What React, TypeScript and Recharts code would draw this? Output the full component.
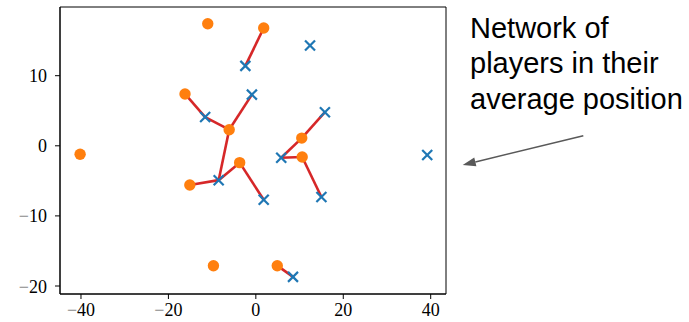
import React from "react";
import { ScatterChart, Scatter, XAxis, YAxis, ReferenceArea } from "recharts";

// average positions
const homeX = [-11.0, 1.8, -16.2, -6.1, -40.2, 10.5, 10.6, -3.7, -15.1, -9.7, 4.9];
const homeY = [17.4, 16.8, 7.4, 2.3, -1.2, 1.1, -1.6, -2.4, -5.6, -17.1, -17.1];
const awayX = [-2.4, 12.4, -0.9, -11.6, 15.8, 5.8, 39.2, -8.5, 1.8, 15.0, 8.5];
const awayY = [11.4, 14.3, 7.3, 4.1, 4.8, -1.7, -1.3, -4.9, -7.7, -7.3, -18.7];
// [home index, away index]
const links = [
  [1, 0], [2, 3], [3, 3], [3, 2], [3, 7], [8, 7], [7, 7], [7, 8],
  [5, 5], [5, 4], [6, 5], [6, 9], [10, 10],
];
const xTicks = [-40, -20, 0, 20, 40];
const yTicks = [-20, -10, 0, 10];
const xDomain = [-44.8, 43.5];
const yDomain = [-21.14, 19.8];
const noteLines = ["Network of", "players in their", "average position"];

const home = homeX.map((x, i) => ({ x, y: homeY[i] }));
const away = awayX.map((x, i) => ({ x, y: awayY[i] }));
const segments = links.map(([h, a]) => [home[h], away[a]]);

const tickFont = { fontFamily: "Liberation Serif", fontSize: 18 };

function label(v: number) {
  if (v < 0)
    return (
      <>
        <tspan fill="#8a8a8a">−</tspan>
        <tspan>{Math.abs(v)}</tspan>
      </>
    );
  return String(v);
}

const XTick = (p: any) => (
  <text x={p.x} y={p.y} dy={17} textAnchor="middle" fill="#000" style={tickFont}>
    {label(p.payload.value)}
  </text>
);

const YTick = (p: any) => (
  <text x={p.x} y={p.y} dy={6.5} textAnchor="end" fill="#000" style={tickFont}>
    {label(p.payload.value)}
  </text>
);

const Dot = (p: any) => <circle cx={p.cx} cy={p.cy} r={5.7} fill="#ff7f0e" />;

const Cross = (p: any) => {
  const s = 5;
  return (
    <g stroke="#1f77b4" strokeWidth={2.2}>
      <line x1={p.cx - s} y1={p.cy - s} x2={p.cx + s} y2={p.cy + s} />
      <line x1={p.cx - s} y1={p.cy + s} x2={p.cx + s} y2={p.cy - s} />
    </g>
  );
};

function Arrow({ x1, y1, x2, y2 }: { x1: number; y1: number; x2: number; y2: number }) {
  const len = Math.hypot(x2 - x1, y2 - y1);
  const ux = (x2 - x1) / len;
  const uy = (y2 - y1) / len;
  const bx = x2 - 13 * ux;
  const by = y2 - 13 * uy;
  const w = 4.5;
  return (
    <g>
      <line x1={x1} y1={y1} x2={bx} y2={by} stroke="#595959" strokeWidth={1.6} />
      <polygon
        points={`${x2},${y2} ${bx - w * uy},${by + w * ux} ${bx + w * uy},${by - w * ux}`}
        fill="#595959"
      />
    </g>
  );
}

export default function App() {
  return (
    <div style={{ position: "relative", width: 689, height: 322 }}>
      <style>{"body{margin:0}"}</style>
      <ScatterChart width={689} height={322} margin={{ top: 7, right: 243, bottom: 0, left: 0 }}>
        <XAxis
          type="number"
          dataKey="x"
          domain={xDomain}
          allowDataOverflow
          ticks={xTicks}
          height={28}
          tickSize={5}
          tickMargin={0}
          tick={<XTick />}
          axisLine={{ stroke: "#000" }}
          tickLine={{ stroke: "#000" }}
        />
        <YAxis
          type="number"
          dataKey="y"
          domain={yDomain}
          allowDataOverflow
          ticks={yTicks}
          width={60}
          tickSize={5}
          tickMargin={8}
          tick={<YTick />}
          axisLine={{ stroke: "#000" }}
          tickLine={{ stroke: "#000" }}
        />
        <ReferenceArea
          x1={xDomain[0]}
          x2={xDomain[1]}
          y1={yDomain[0]}
          y2={yDomain[1]}
          fill="none"
          stroke="#000"
          strokeWidth={1}
          ifOverflow="visible"
        />
        {segments.map((seg, i) => (
          <Scatter
            key={i}
            data={seg}
            line={{ stroke: "#d62728", strokeWidth: 2.6 }}
            shape={() => <g />}
            isAnimationActive={false}
          />
        ))}
        <Scatter data={away} shape={<Cross />} isAnimationActive={false} />
        <Scatter data={home} shape={<Dot />} isAnimationActive={false} />
      </ScatterChart>
      <svg
        width={689}
        height={322}
        style={{ position: "absolute", left: 0, top: 0, pointerEvents: "none" }}
      >
        {noteLines.map((t, i) => (
          <text
            key={t}
            x={470}
            y={37.5 + i * 35.5}
            fontFamily="Liberation Sans"
            fontSize={29}
            fill="#000"
          >
            {t}
          </text>
        ))}
        <Arrow x1={583.3} y1={135.7} x2={462.7} y2={165} />
      </svg>
    </div>
  );
}
